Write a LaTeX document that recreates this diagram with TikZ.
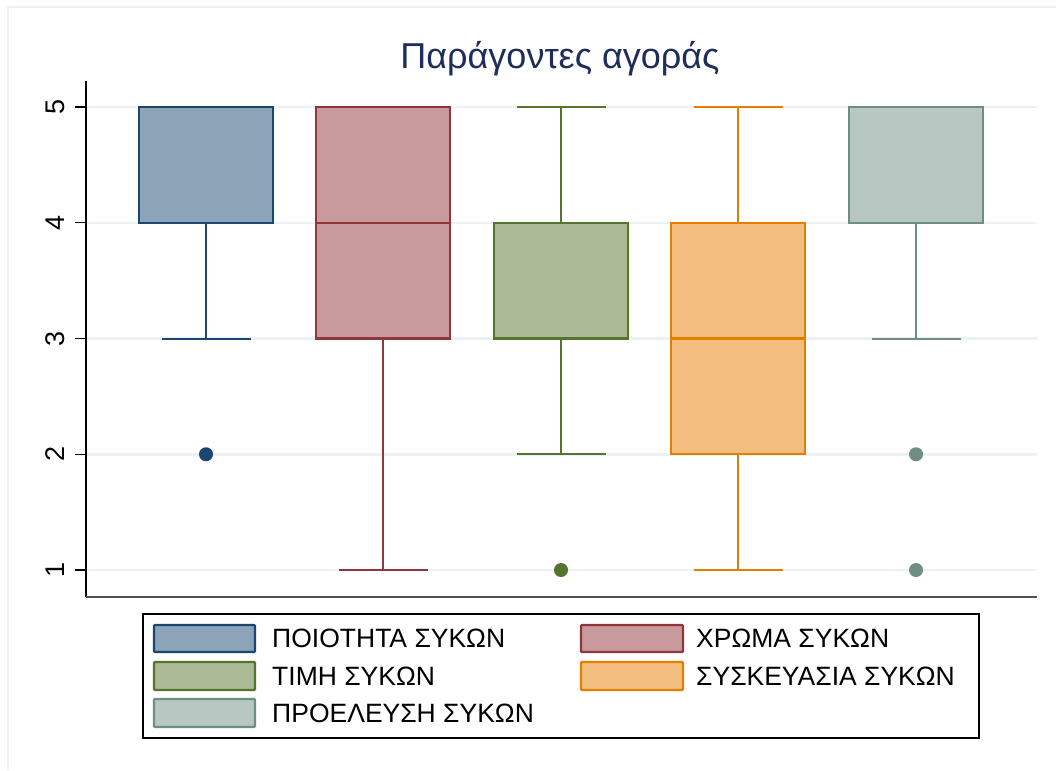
\documentclass[tikz,border=0pt]{standalone}
\usepackage{fontspec}
\setmainfont{Liberation Sans}
\definecolor{c1}{RGB}{26,71,111}
\definecolor{f1}{RGB}{141,163,183}
\definecolor{c2}{RGB}{144,53,59}
\definecolor{f2}{RGB}{200,154,157}
\definecolor{c3}{RGB}{85,117,47}
\definecolor{f3}{RGB}{170,186,151}
\definecolor{c4}{RGB}{227,126,0}
\definecolor{f4}{RGB}{241,190,127}
\definecolor{c5}{RGB}{110,142,132}
\definecolor{f5}{RGB}{183,199,194}
\definecolor{gridc}{RGB}{234,242,243}
\definecolor{axisgray}{RGB}{80,80,80}
\definecolor{titlec}{RGB}{30,45,90}
\tikzset{
  grid line/.style={gridc,line width=2.5},
  whisk/.style={line width=2},
  boxst/.style={line width=2.2},
  legtext/.style={anchor=west,font=\fontsize{26.5}{30}\selectfont,inner sep=0},
  ticklab/.style={rotate=90,font=\fontsize{27}{30}\selectfont,inner sep=0},
  legkey/.style={line width=2.2,rounded corners=1}
}
\begin{document}
\begin{tikzpicture}[x=1pt,y=-1pt,declare function={Y(\v)=570-(\v-1)*115.75;}]
\useasboundingbox (0,0) rectangle (1056,770);
\fill[white] (0,0) rectangle (1056,770);
\draw[gridc,line width=2] (8,770) -- (8,7) -- (1056,7);
% grid, ticks, labels
\foreach \v in {1,...,5}{
  \draw[grid line] (86,{Y(\v)}) -- (1037,{Y(\v)});
  \draw[black,line width=1.2] (75,{Y(\v)}) -- (86,{Y(\v)});
  \node[ticklab] (t\v) at (55,{Y(\v)}) {\v};
}
\draw[black,line width=1.5] (86,81) -- (86,597);
\draw[axisgray,line width=2] (86,597) -- (1037,597);
% box 1
\draw[c1,whisk] (206,{Y(4)}) -- (206,{Y(3)});
\draw[c1,whisk] (161.5,{Y(3)}) -- (250.5,{Y(3)});
\draw[c1,boxst,fill=f1] (139,{Y(4)}) rectangle (273,{Y(5)});
\fill[c1] (206,{Y(2)}) circle (7);
% box 2
\draw[c2,whisk] (383,{Y(3)}) -- (383,{Y(1)});
\draw[c2,whisk] (338.5,{Y(1)}) -- (427.5,{Y(1)});
\draw[c2,boxst,fill=f2] (316,{Y(3)}) rectangle (450,{Y(5)});
\draw[c2,boxst] (316,{Y(4)}) -- (450,{Y(4)});
% box 3
\draw[c3,whisk] (561,{Y(3)}) -- (561,{Y(2)});
\draw[c3,whisk] (516.5,{Y(2)}) -- (605.5,{Y(2)});
\draw[c3,whisk] (561,{Y(4)}) -- (561,{Y(5)});
\draw[c3,whisk] (516.5,{Y(5)}) -- (605.5,{Y(5)});
\draw[c3,boxst,fill=f3] (494,{Y(3)}) rectangle (628,{Y(4)});
\fill[c3] (561,{Y(1)}) circle (7);
% box 4
\draw[c4,whisk] (738,{Y(2)}) -- (738,{Y(1)});
\draw[c4,whisk] (693.5,{Y(1)}) -- (782.5,{Y(1)});
\draw[c4,whisk] (738,{Y(4)}) -- (738,{Y(5)});
\draw[c4,whisk] (693.5,{Y(5)}) -- (782.5,{Y(5)});
\draw[c4,boxst,fill=f4] (671,{Y(2)}) rectangle (805,{Y(4)});
\draw[c4,boxst] (671,{Y(3)}) -- (805,{Y(3)});
% box 5
\draw[c5,whisk] (916,{Y(4)}) -- (916,{Y(3)});
\draw[c5,whisk] (871.5,{Y(3)}) -- (960.5,{Y(3)});
\draw[c5,boxst,fill=f5] (849,{Y(4)}) rectangle (983,{Y(5)});
\fill[c5] (916,{Y(2)}) circle (7);
\fill[c5] (916,{Y(1)}) circle (7);
% title
\node[titlec,font=\fontsize{36}{40}\selectfont,inner sep=0,anchor=base] (title) at (560,69) {Παράγοντες αγοράς};
% legend
\draw[black,line width=1.3] (143,614) rectangle (979,738);
\draw[c1,fill=f1,legkey] (154,625) rectangle (255,652);
\draw[c3,fill=f3,legkey] (154,662) rectangle (255,690);
\draw[c5,fill=f5,legkey] (154,699) rectangle (255,727);
\draw[c2,fill=f2,legkey] (581,625) rectangle (683,652);
\draw[c4,fill=f4,legkey] (581,662) rectangle (683,690);
\node[legtext] (l1) at (272,638.5) {ΠΟΙΟΤΗΤΑ ΣΥΚΩΝ};
\node[legtext] (l3) at (272,676) {ΤΙΜΗ ΣΥΚΩΝ};
\node[legtext] (l5) at (272,713) {ΠΡΟΕΛΕΥΣΗ ΣΥΚΩΝ};
\node[legtext] (l2) at (696,638.5) {ΧΡΩΜΑ ΣΥΚΩΝ};
\node[legtext] (l4) at (696,676) {ΣΥΣΚΕΥΑΣΙΑ ΣΥΚΩΝ};
\end{tikzpicture}
\end{document}
